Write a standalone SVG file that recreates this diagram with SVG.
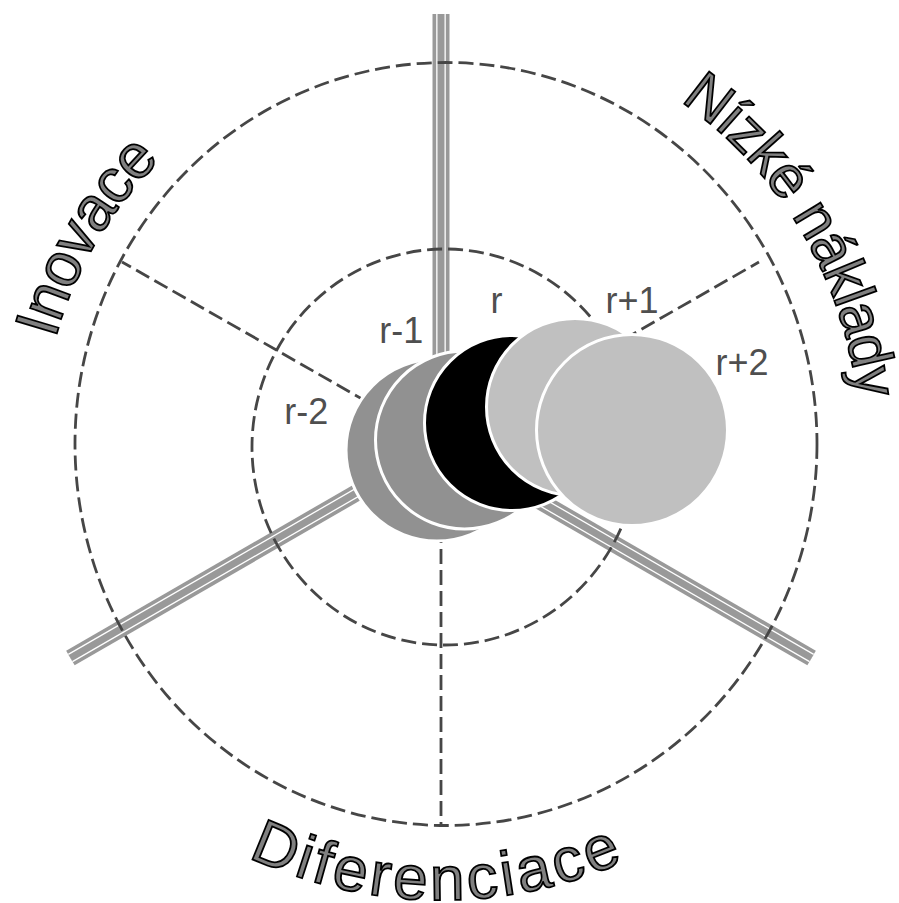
<svg xmlns="http://www.w3.org/2000/svg" xmlns:xlink="http://www.w3.org/1999/xlink" width="899" height="903" viewBox="0 0 899 903">
<defs>
<style>
.bo{stroke:#999999;stroke-width:17;fill:none}
.bw{stroke:#ffffff;stroke-width:9.6;fill:none}
.bi{stroke:#999999;stroke-width:7;fill:none}
.dash{fill:none;stroke:#464646;stroke-width:2.8;stroke-dasharray:15 6}
.disc{stroke:#ffffff;stroke-width:3}
.lbl{font-family:"Liberation Sans",Arial,sans-serif;font-size:36px;fill:#4f4f4f}
.big{font-family:"Liberation Sans",Arial,sans-serif;fill:#808080;stroke:#000000;stroke-width:1.8}
</style>
<path id="pInov" d="M 55.4 338.8 A 400 400 0 0 1 272 82.5"/>
<path id="pNiz" d="M 680.3 101.1 A 419 419 0 0 1 853.6 517.7"/>
<path id="pDif" d="M 248 857 A 455 455 0 0 0 702 817.7"/>
</defs>
<rect width="899" height="903" fill="#ffffff"/>
<g id="axes">
<g id="axis-top"><line class="bo" x1="441" y1="444" x2="441" y2="14"/><line class="bw" x1="441" y1="444" x2="441" y2="14"/><line class="bi" x1="441" y1="444" x2="441" y2="14"/></g>
<g id="axis-left"><line class="bo" x1="441" y1="444" x2="70.4" y2="658"/><line class="bw" x1="441" y1="444" x2="70.4" y2="658"/><line class="bi" x1="441" y1="444" x2="70.4" y2="658"/></g>
<g id="axis-right"><line class="bo" x1="441" y1="444" x2="811.6" y2="658"/><line class="bw" x1="441" y1="444" x2="811.6" y2="658"/><line class="bi" x1="441" y1="444" x2="811.6" y2="658"/></g>
</g>
<g id="rings">
<ellipse class="dash" cx="446" cy="444" rx="371" ry="381.5"/>
<ellipse class="dash" cx="445" cy="447" rx="193" ry="198"/>
</g>
<g id="connectors">
<line class="dash" x1="441" y1="444" x2="122" y2="262"/>
<line class="dash" x1="441" y1="444" x2="759" y2="262"/>
<line class="dash" x1="441" y1="444" x2="441" y2="825"/>
</g>
<g id="node-r-2"><circle class="disc" cx="437" cy="450" r="91" fill="#919191"/></g>
<g id="node-r-1"><circle class="disc" cx="464.5" cy="440" r="89" fill="#919191"/></g>
<g id="node-r"><circle class="disc" cx="512" cy="423" r="87.5" fill="#000000"/></g>
<g id="node-r+1"><circle class="disc" cx="575" cy="407" r="88.5" fill="#c0c0c0"/></g>
<g id="node-r+2"><circle class="disc" cx="632" cy="430" r="95.5" fill="#c0c0c0"/></g>
<g id="labels">
<text class="lbl" x="284.3" y="424">r-2</text>
<text class="lbl" x="379.3" y="343">r-1</text>
<text class="lbl" x="490.6" y="313">r</text>
<text class="lbl" x="605.6" y="313">r+1</text>
<text class="lbl" x="715.6" y="375">r+2</text>
</g>
<g id="sectors">
<text class="big" font-size="62"><textPath xlink:href="#pInov" href="#pInov" textLength="210">Inovace</textPath></text>
<text class="big" font-size="59"><textPath xlink:href="#pNiz" href="#pNiz" textLength="357">Nízké náklady</textPath></text>
<text class="big" font-size="62"><textPath xlink:href="#pDif" href="#pDif" textLength="387">Diferenciace</textPath></text>
</g>
</svg>
